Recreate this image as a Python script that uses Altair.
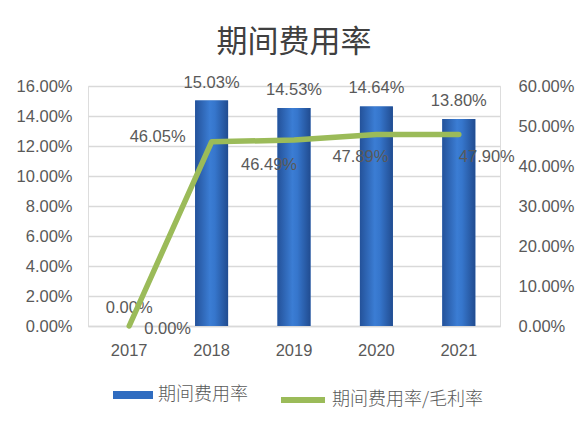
import altair as alt
import pandas as pd

# Chart values
years = ["2017", "2018", "2019", "2020", "2021"]
expense_rate = [0.0, 0.1503, 0.1453, 0.1464, 0.1380]
expense_to_gross = [0.0, 0.4605, 0.4649, 0.4789, 0.4790]
left_ticks = [0.0, 0.02, 0.04, 0.06, 0.08, 0.10, 0.12, 0.14, 0.16]
right_ticks = [0.0, 0.1, 0.2, 0.3, 0.4, 0.5, 0.6]

bar_name = "期间费用率"
line_name = "期间费用率/毛利率"

df = pd.DataFrame(
    {
        "year": years,
        "rate": expense_rate,
        "ratio": expense_to_gross,
        "bar_series": bar_name,
        "line_series": line_name,
    }
)

GRAY = "#595959"
GRID = "#D9D9D9"
NUM_FONT = "Liberation Sans"
CJK_FONT = "Noto Sans CJK SC"
LINE_GREEN = "#9BBB59"

x_enc = alt.X(
    "year:N",
    title=None,
    scale=alt.Scale(paddingInner=0.6, paddingOuter=0.3),
    axis=alt.Axis(
        labelAngle=0,
        labelFont=NUM_FONT,
        labelFontSize=16.5,
        labelColor=GRAY,
        labelPadding=16,
        ticks=False,
        domainColor=GRID,
        domainWidth=1.3,
        grid=False,
    ),
)

# Left axis (bars) and right axis (line), same object reused in every layer
y_left = alt.Y(
    "rate:Q",
    title=None,
    scale=alt.Scale(domain=[0, 0.16], nice=False),
    axis=alt.Axis(
        values=left_ticks,
        format=".2%",
        labelFont=NUM_FONT,
        labelFontSize=16.5,
        labelColor=GRAY,
        labelPadding=16,
        ticks=False,
        domain=False,
        gridColor=GRID,
        gridWidth=1.3,
    ),
)
y_right = alt.Y(
    "ratio:Q",
    title=None,
    scale=alt.Scale(domain=[0, 0.6], nice=False),
    axis=alt.Axis(
        orient="right",
        values=right_ticks,
        format=".2%",
        labelFont=NUM_FONT,
        labelFontSize=16.5,
        labelColor=GRAY,
        labelPadding=18,
        ticks=False,
        domain=False,
        grid=False,
    ),
)

base = alt.Chart(df)

# Solid bars, only there to give the legend its swatch
bar_swatch = base.mark_bar().encode(
    x=x_enc,
    y=y_left,
    color=alt.Color(
        "bar_series:N",
        scale=alt.Scale(range=["#2F6CC0"]),
        legend=alt.Legend(
            title=None,
            orient="none",
            legendX=25,
            legendY=289,
            symbolType="M-1,-0.2H1V0.2H-1Z",
            symbolSize=1600,
            symbolStrokeWidth=0,
            symbolOpacity=1,
            labelFont=CJK_FONT,
            labelFontSize=18,
            labelFontWeight=300,
            labelColor=GRAY,
            labelOffset=5,
        ),
    ),
)

# Gradient bars drawn over the solid ones
bar_fill = alt.LinearGradient(
    gradient="linear",
    x1=0,
    x2=1,
    y1=0,
    y2=0,
    stops=[
        alt.GradientStop(color="#24529A", offset=0),
        alt.GradientStop(color="#3B7DD4", offset=0.45),
        alt.GradientStop(color="#3676CC", offset=0.6),
        alt.GradientStop(color="#214C90", offset=1),
    ],
)
bars = base.mark_bar(color=bar_fill).encode(x=x_enc, y=y_left)

bar_text = base.mark_text(
    dy=-13,
    baseline="alphabetic",
    font=NUM_FONT,
    fontSize=16.5,
    color=GRAY,
).encode(
    x=x_enc,
    y=y_left,
    text=alt.Text("rate:Q", format=".2%"),
)

left = alt.layer(bar_swatch, bars, bar_text)

line = base.mark_line(strokeWidth=5.5, strokeCap="round", strokeJoin="round").encode(
    x=x_enc,
    y=y_right,
    color=alt.Color(
        "line_series:N",
        scale=alt.Scale(range=[LINE_GREEN]),
        legend=alt.Legend(
            title=None,
            orient="none",
            legendX=190,
            legendY=289,
            symbolType="stroke",
            symbolSize=1936,
            symbolStrokeWidth=6,
            labelFont=CJK_FONT,
            labelFontSize=18,
            labelFontWeight=300,
            labelColor=GRAY,
            labelOffset=4,
        ),
    ),
)


def line_label(year, dx, dy, align):
    return (
        base.transform_filter(alt.datum.year == year)
        .mark_text(
            dx=dx,
            dy=dy,
            align=align,
            baseline="middle",
            font=NUM_FONT,
            fontSize=16.5,
            color=GRAY,
        )
        .encode(
            x=x_enc,
            y=y_right,
            text=alt.Text("ratio:Q", format=".2%"),
        )
    )


right = alt.layer(
    line,
    line_label("2017", 15, 3, "left"),
    line_label("2018", -26, -5, "right"),
    line_label("2019", -25, 25, "center"),
    line_label("2020", -16, 23, "center"),
    line_label("2021", 0, 23, "left"),
)

chart = (
    alt.layer(left, right)
    .resolve_scale(y="independent", color="independent")
    .properties(
        width=412,
        height=240,
        autosize="none",
        padding={"left": 80, "top": 78, "right": 80, "bottom": 90},
        title=alt.TitleParams(
            text="期间费用率",
            font=CJK_FONT,
            fontSize=31,
            fontWeight="normal",
            color="#404040",
            anchor="middle",
            baseline="bottom",
            offset=20,
            dy=35,
        ),
    )
    .configure_view(stroke="transparent")
    .configure(background="white")
)

chart.save("out.html", embed_options={"renderer": "svg", "actions": False})
